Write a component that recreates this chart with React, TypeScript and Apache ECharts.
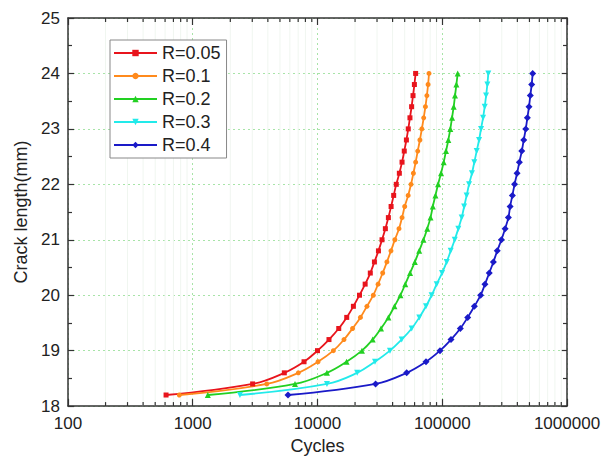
import React, { useEffect, useRef } from "react";
import * as echarts from "echarts";

const crackLengths = [
  18.2, 18.4, 18.6, 18.8, 19.0, 19.2, 19.4, 19.6, 19.8, 20.0,
  20.2, 20.4, 20.6, 20.8, 21.0, 21.2, 21.4, 21.6, 21.8, 22.0,
  22.2, 22.4, 22.6, 22.8, 23.0, 23.2, 23.4, 23.6, 23.8, 24.0,
];

const cyclesR005 = [
  611, 3020, 5420, 7800, 10000, 12360, 14800, 17150, 19400, 21700,
  24100, 26500, 28600, 30800, 32900, 35000, 37000, 38900, 40800, 42800,
  45300, 47600, 49600, 51600, 53400, 55100, 56800, 58300, 59800, 61200,
];
const cyclesR01 = [
  780, 3920, 7020, 10100, 13400, 16300, 19100, 22100, 24900, 28000,
  30600, 33300, 36000, 38800, 41700, 45000, 47600, 50000, 53300, 56200,
  58700, 61200, 63600, 66200, 68600, 71000, 73300, 75300, 77000, 78300,
];
const cyclesR02 = [
  1320, 6600, 11900, 17100, 22700, 27700, 32300, 37000, 41400, 46200,
  50500, 55200, 60300, 65300, 70700, 75800, 80500, 84000, 88200, 92600,
  97800, 102700, 107200, 111900, 116000, 119800, 123500, 126600, 129800, 133000,
];
const cyclesR03 = [
  2390, 11900, 20800, 28900, 38100, 47300, 56900, 65500, 74100, 82200,
  90200, 99600, 108600, 116900, 125900, 134500, 143200, 149800, 156900, 164000,
  173000, 180700, 188900, 197200, 204600, 212300, 219000, 224600, 229900, 234000,
];
const cyclesR04 = [
  5800, 29200, 51900, 74100, 95900, 117500, 139600, 160000, 181000, 203000,
  220000, 238000, 257000, 276000, 298000, 319000, 339000, 350000, 365000, 380000,
  398000, 415000, 434000, 450000, 467000, 481000, 496000, 508000, 521000, 531000,
];

const seriesNames = ["R=0.05", "R=0.1", "R=0.2", "R=0.3", "R=0.4"];
const seriesCycles = [cyclesR005, cyclesR01, cyclesR02, cyclesR03, cyclesR04];
const seriesColors = ["#e8141c", "#ff8a1c", "#22d022", "#22eaea", "#1a1ac8"];
const seriesSymbols = ["rect", "circle", "triangle", "triangle", "diamond"];
const seriesSymbolRotate = [0, 0, 0, 180, 0];
const seriesSymbolSize = [5, 5, 6, 6, 7];

const xMin = 100;
const xMax = 1000000;
const yMin = 18;
const yMax = 25;

// minor tick positions of the log axis (2..9 x 10^k)
const minorTickValues: number[] = [];
for (let p = 100; p < xMax; p *= 10) {
  for (let m = 2; m <= 9; m++) minorTickValues.push(m * p);
}

const FONT = "Liberation Sans, Arial, sans-serif";

export default function App() {
  const ref = useRef<HTMLDivElement>(null);
  useEffect(() => {
    if (!ref.current) return;
    const chart = echarts.init(ref.current, null, { renderer: "svg" });
    const axisColor = "#333";
    const lineSeries = seriesNames.map((name, i) => ({
      name,
      type: "line",
      data: seriesCycles[i].map((n, k) => [n, crackLengths[k]]),
      symbol: seriesSymbols[i],
      symbolRotate: seriesSymbolRotate[i],
      symbolSize: seriesSymbolSize[i],
      smooth: 0.4,
      showAllSymbol: true,
      color: seriesColors[i],
      lineStyle: { width: 1.8, color: seriesColors[i] },
      itemStyle: { color: seriesColors[i] },
      z: 3,
    }));
    const minorSeries = {
      type: "custom",
      silent: true,
      z: 1,
      xAxisIndex: 0,
      yAxisIndex: 0,
      data: minorTickValues.map((v) => [v, yMin]),
      renderItem: (params: any, api: any) => {
        const v = api.value(0);
        const pb = api.coord([v, yMin]);
        const pt = api.coord([v, yMax]);
        return {
          type: "group",
          children: [
            {
              type: "line",
              shape: { x1: pb[0], y1: pb[1], x2: pt[0], y2: pt[1] },
              style: { stroke: "#f0f6f0", lineWidth: 1 },
            },
            {
              type: "line",
              shape: { x1: pb[0], y1: pb[1], x2: pb[0], y2: pb[1] - 4 },
              style: { stroke: axisColor, lineWidth: 1.2 },
            },
            {
              type: "line",
              shape: { x1: pt[0], y1: pt[1], x2: pt[0], y2: pt[1] + 4 },
              style: { stroke: axisColor, lineWidth: 1.2 },
            },
          ],
        };
      },
    };
    const splitLineStyle = { color: "#a8e4a8", type: [2, 3], width: 1 };
    chart.setOption({
      animation: false,
      backgroundColor: "#ffffff",
      textStyle: { fontFamily: FONT },
      grid: { left: 68, right: 38, top: 18, bottom: 52, containLabel: false },
      legend: {
        orient: "vertical",
        left: 110,
        top: 40,
        data: seriesNames,
        itemWidth: 43,
        itemHeight: 8,
        itemGap: 5,
        padding: [4, 6, 4, 3],
        borderColor: "#888",
        borderWidth: 1,
        backgroundColor: "#fff",
        textStyle: { fontSize: 18, color: "#222", fontFamily: FONT },
      },
      xAxis: [
        {
          type: "log",
          logBase: 10,
          min: xMin,
          max: xMax,
          position: "bottom",
          name: "Cycles",
          nameLocation: "middle",
          nameGap: 30,
          nameTextStyle: { fontSize: 18, color: "#222", fontFamily: FONT },
          axisLine: { show: true, onZero: false, lineStyle: { color: axisColor, width: 1.5 } },
          axisTick: { show: true, inside: true, length: 7, lineStyle: { color: axisColor, width: 1.2 } },
          axisLabel: {
            fontSize: 17,
            color: "#222",
            margin: 9,
            fontFamily: FONT,
            formatter: (v: number) => String(Math.round(v)),
          },
          splitLine: { show: true, lineStyle: splitLineStyle },
        },
        {
          type: "log",
          logBase: 10,
          min: xMin,
          max: xMax,
          position: "top",
          axisLine: { show: true, onZero: false, lineStyle: { color: axisColor, width: 1.5 } },
          axisTick: { show: true, inside: true, length: 7, lineStyle: { color: axisColor, width: 1.2 } },
          axisLabel: { show: false },
          splitLine: { show: false },
        },
      ],
      yAxis: [
        {
          type: "value",
          min: yMin,
          max: yMax,
          interval: 1,
          position: "left",
          name: "Crack length(mm)",
          nameLocation: "middle",
          nameGap: 32,
          nameRotate: 90,
          nameTextStyle: { fontSize: 18, color: "#222", fontFamily: FONT },
          axisLine: { show: true, onZero: false, lineStyle: { color: axisColor, width: 1.5 } },
          axisTick: { show: true, inside: true, length: 6, lineStyle: { color: axisColor, width: 1.2 } },
          minorTick: { show: true, splitNumber: 2, length: 4, lineStyle: { color: axisColor, width: 1.2 } },
          axisLabel: { fontSize: 17, color: "#222", margin: 8, fontFamily: FONT },
          splitLine: { show: true, lineStyle: splitLineStyle },
        },
        {
          type: "value",
          min: yMin,
          max: yMax,
          interval: 1,
          position: "right",
          axisLine: { show: true, onZero: false, lineStyle: { color: axisColor, width: 1.5 } },
          axisTick: { show: true, inside: true, length: 6, lineStyle: { color: axisColor, width: 1.2 } },
          minorTick: { show: true, splitNumber: 2, length: 4, lineStyle: { color: axisColor, width: 1.2 } },
          axisLabel: { show: false },
          splitLine: { show: false },
        },
      ],
      series: [minorSeries, ...lineSeries],
    });
    return () => chart.dispose();
  }, []);
  return (
    <div
      ref={ref}
      style={{ position: "absolute", left: 0, top: 0, width: 605, height: 460 }}
    />
  );
}
